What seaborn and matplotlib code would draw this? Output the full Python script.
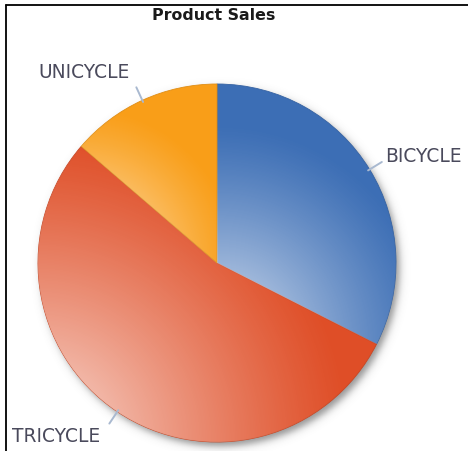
import numpy as np
import matplotlib
matplotlib.use("Agg")
import matplotlib.pyplot as plt
from matplotlib.lines import Line2D
from matplotlib.colors import to_rgb
import seaborn as sns

products = ["BICYCLE", "TRICYCLE", "UNICYCLE"]
sales = [32.5, 53.8, 13.7]
slice_colors = ["#3c6eb5", "#df4e27", "#f99e18"]

sns.set_theme(style="white")
plt.rcParams['font.family'] = ['DejaVu Sans']

fig = plt.figure(figsize=(4.68, 4.51), dpi=100)
ax = fig.add_axes([0, 0, 1, 1])

wedges, texts = ax.pie(sales, labels=products, colors=sns.color_palette(slice_colors),
                       startangle=90, counterclock=False, labeldistance=1.17,
                       wedgeprops=dict(linewidth=0), textprops=dict(fontsize=13.4, color='#4a4a5c'),
                       radius=1.0)

# soft drop shadow behind the pie
n = 500
gx, gy = np.meshgrid(np.linspace(-1.2, 1.2, n), np.linspace(-1.2, 1.2, n))
d = np.hypot(gx - 0.02, gy + 0.025)
sh = np.zeros((n, n, 4))
sh[..., :3] = 0.3
sh[..., 3] = 0.6 / (1 + np.exp((d - 1.0) / 0.013))
ax.imshow(sh, extent=(-1.2, 1.2, -1.2, 1.2), origin='lower', zorder=0.5, interpolation='bilinear')

# per slice light gradient from the lower-left corner
gx, gy = np.meshgrid(np.linspace(-1.01, 1.01, n), np.linspace(-1.01, 1.01, n))
for w, c in zip(wedges, slice_colors):
    w.set_zorder(1)
    w.set_edgecolor([v * 0.9 for v in to_rgb(c)])
    w.set_linewidth(0.6)
    bb = w.get_path().get_extents()
    diag = np.hypot(bb.width, bb.height)
    dist = np.hypot(gx - bb.x0, gy - bb.y0)
    img = np.ones((n, n, 4))
    img[..., 3] = 0.82 * np.clip(1 - dist / (0.7 * diag), 0, 1) ** 1.2
    im = ax.imshow(img, extent=(-1.01, 1.01, -1.01, 1.01), origin='lower', zorder=1.5,
                   interpolation='bilinear')
    im.set_clip_path(w)

# leader lines, right side labels sit a bit closer to the pie
for w, t in zip(wedges, texts):
    ang = np.deg2rad((w.theta1 + w.theta2) / 2)
    ax.plot([0.99 * np.cos(ang), 1.08 * np.cos(ang)], [0.99 * np.sin(ang), 1.08 * np.sin(ang)],
            color='#a9b9d0', lw=1.4, zorder=2)
    if np.cos(ang) > 0:
        t.set_position((1.1 * np.cos(ang), 1.1 * np.sin(ang) + 0.02))

ax.set_xlim(-217 / 179, (468 - 217) / 179)
ax.set_ylim(-(451 - 263) / 179, 263 / 179)
ax.set_aspect('auto')
ax.axis('off')

fig.text(213.5 / 468, 1 - 20.5 / 451, "Product Sales", ha='center', va='baseline',
         fontsize=11.4, fontweight='bold', color='#1a1a1a')

fig.add_artist(Line2D([6 / 468, 1], [1 - 5 / 451, 1 - 5 / 451], color='black', lw=1.3))
fig.add_artist(Line2D([6 / 468, 6 / 468], [0, 1 - 5 / 451], color='black', lw=1.3))

fig.savefig("out.png", dpi=100, facecolor='white')
